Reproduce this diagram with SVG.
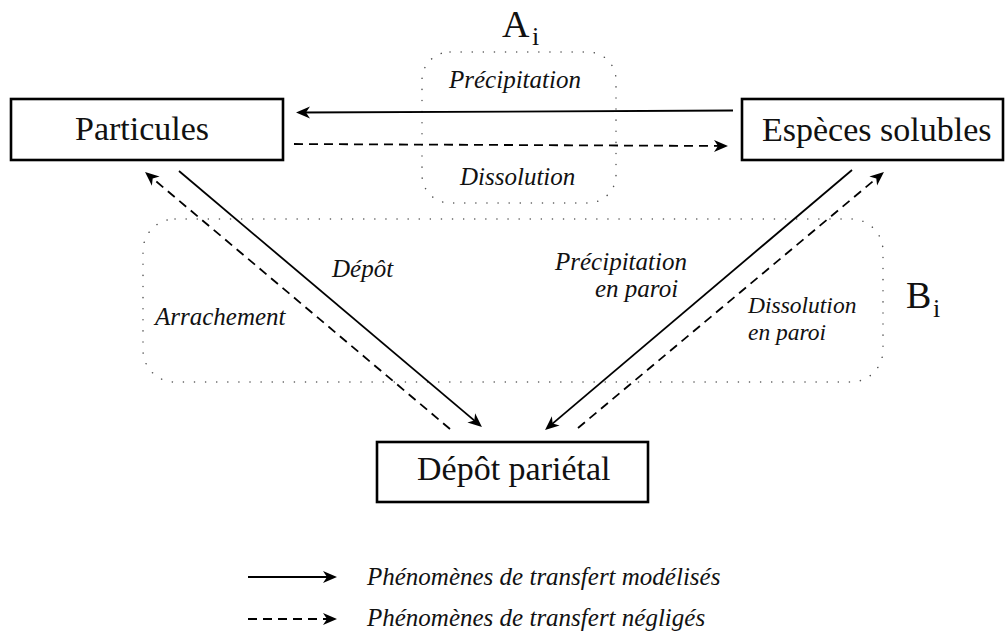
<svg xmlns="http://www.w3.org/2000/svg" width="1007" height="634" viewBox="0 0 1007 634">
<style>
.box{fill:#fff;stroke:#000;stroke-width:2.6}
.node{font-family:"Liberation Serif","Times New Roman",serif;font-size:34px;fill:#111}
.lbl{font-family:"Liberation Serif","Times New Roman",serif;font-size:25px;font-style:italic;fill:#111}
.sm{font-size:23.5px}
.big{font-family:"Liberation Serif","Times New Roman",serif;font-size:38px;fill:#111}
.sub{font-family:"Liberation Serif","Times New Roman",serif;font-size:26px;fill:#111}
.solid{fill:none;stroke:#000;stroke-width:1.8;marker-end:url(#ah)}
.dash{fill:none;stroke:#000;stroke-width:1.8;stroke-dasharray:9 6;marker-end:url(#ah)}
.dot{fill:none;stroke:#555;stroke-width:1.5;stroke-linecap:round;stroke-dasharray:0.1 11}
</style>
<defs>
<marker id="ah" markerUnits="userSpaceOnUse" viewBox="0 -7 16 14" refX="10" refY="0" markerWidth="16" markerHeight="14" orient="auto">
<path d="M14,0 L0,-6 L4,0 L0,6 Z" fill="#000"/>
</marker>
</defs>
<rect width="1007" height="634" fill="#fff"/>
<g id="regions">
<rect class="dot" x="422" y="52" width="194" height="151" rx="28"/>
<rect class="dot" x="143" y="219" width="740" height="163" rx="32"/>
<text class="big" x="502" y="37">A</text><text class="sub" x="532" y="45">i</text>
<text class="big" x="906" y="308">B</text><text class="sub" x="933" y="317">i</text>
</g>
<g id="connectors">
<line class="solid" x1="733" y1="110.5" x2="300" y2="112.5"/>
<line class="dash" x1="294" y1="144" x2="724" y2="146"/>
<line class="solid" x1="179" y1="171" x2="478.9" y2="424.4"/>
<line class="dash" x1="450" y1="429" x2="148.1" y2="174.6"/>
<line class="solid" x1="852" y1="170" x2="548.1" y2="427.4"/>
<line class="dash" x1="578" y1="428" x2="880.9" y2="174.6"/>
</g>
<g id="labels">
<text class="lbl" x="449" y="88">Précipitation</text>
<text class="lbl" x="460" y="185">Dissolution</text>
<text class="lbl" x="332" y="277">Dépôt</text>
<text class="lbl" x="155" y="325">Arrachement</text>
<text class="lbl" x="555" y="270">Précipitation</text>
<text class="lbl" x="595" y="297">en paroi</text>
<text class="lbl sm" x="748" y="313">Dissolution</text>
<text class="lbl sm" x="748" y="340">en paroi</text>
</g>
<g id="particules">
<rect class="box" x="11" y="99" width="272" height="61"/>
<text class="node" x="75" y="140">Particules</text>
</g>
<g id="especes">
<rect class="box" x="742" y="99" width="261" height="61"/>
<text class="node" x="762" y="141">Espèces solubles</text>
</g>
<g id="depot">
<rect class="box" x="377" y="442" width="271" height="60"/>
<text class="node" x="417" y="480">Dépôt pariétal</text>
</g>
<g id="legend">
<line class="solid" x1="248" y1="577" x2="333" y2="577"/>
<text class="lbl" x="367" y="585">Phénomènes de transfert modélisés</text>
<line class="dash" x1="248" y1="619" x2="333" y2="619"/>
<text class="lbl" x="367" y="626">Phénomènes de transfert négligés</text>
</g>
</svg>
